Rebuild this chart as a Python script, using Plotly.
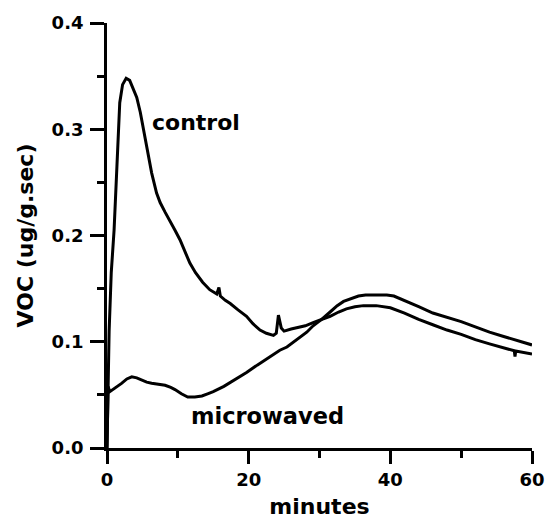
import plotly.graph_objects as go

# VOC emission rate over time for the two samples
control_t = [0.0, 0.15, 0.3, 0.6, 1.0, 1.4, 1.8, 2.2, 2.7, 3.2, 3.7, 4.2, 4.7, 5.3, 5.8,
             6.3, 7.0, 7.5, 8.2, 8.9, 9.6, 10.3, 11.0, 11.7, 12.5, 13.5, 14.5, 15.5, 15.8,
             16.0, 16.7, 17.4, 18.5, 19.7, 20.6, 21.6, 22.5, 23.5, 23.9, 24.2, 24.6, 25.0,
             26.0, 26.8, 28.0, 29.1, 30.3, 31.5, 32.7, 33.8, 35.0, 36.2, 38.0, 40.0, 42.0,
             44.0, 46.0, 48.0, 50.0, 52.0, 54.0, 56.0, 57.5, 57.6, 57.7, 60.0]
control_v = [0.0, 0.05, 0.11, 0.165, 0.205, 0.265, 0.325, 0.342, 0.348, 0.346, 0.338, 0.33,
             0.316, 0.295, 0.275, 0.259, 0.24, 0.231, 0.222, 0.214, 0.205, 0.196, 0.185,
             0.174, 0.165, 0.156, 0.149, 0.145, 0.151, 0.143, 0.139, 0.136, 0.13, 0.124,
             0.117, 0.111, 0.108, 0.106, 0.108, 0.125, 0.113, 0.11, 0.112, 0.113, 0.115,
             0.118, 0.121, 0.124, 0.128, 0.131, 0.133, 0.134, 0.134, 0.132, 0.127, 0.121,
             0.116, 0.111, 0.107, 0.102, 0.098, 0.094, 0.0915, 0.086, 0.0912, 0.0885]

micro_t = [0.0, 0.15, 0.4, 1.1, 2.1, 2.8, 3.5, 4.2, 4.9, 5.6, 6.3, 7.2, 8.2, 9.0, 9.6, 10.5,
           11.4, 12.4, 13.4, 14.2, 15.0, 16.5, 18.0, 19.7, 21.2, 22.8, 24.4, 25.4, 26.8,
           28.2, 29.1, 30.3, 31.5, 32.5, 33.4, 34.5, 35.5, 36.5, 38.0, 39.5, 40.5, 42.0,
           44.0, 46.0, 48.0, 50.0, 52.0, 54.0, 56.0, 58.0, 60.0]
micro_v = [0.0, 0.058, 0.053, 0.056, 0.061, 0.065, 0.067, 0.066, 0.064, 0.062, 0.061, 0.06,
           0.059, 0.057, 0.055, 0.051, 0.048, 0.048, 0.049, 0.051, 0.053, 0.058, 0.064,
           0.071, 0.078, 0.085, 0.092, 0.095, 0.102, 0.109, 0.115, 0.121, 0.128, 0.134,
           0.138, 0.141, 0.143, 0.144, 0.144, 0.144, 0.143, 0.139, 0.133, 0.127, 0.123,
           0.119, 0.114, 0.109, 0.105, 0.101, 0.097]

x_ticks = [0, 20, 40, 60]
y_ticks = [0.0, 0.1, 0.2, 0.3, 0.4]
y_tick_text = ["0.0", "0.1", "0.2", "0.3", "0.4"]

FONT = "DejaVu Sans"

fig = go.Figure()
fig.add_trace(go.Scatter(x=control_t, y=control_v, mode="lines",
                         line=dict(color="black", width=3), name="control"))
fig.add_trace(go.Scatter(x=micro_t, y=micro_v, mode="lines",
                         line=dict(color="black", width=3), name="microwaved"))

fig.add_annotation(x=12.6, y=0.306, text="control", showarrow=False,
                   font=dict(family=FONT, size=22, color="black", weight="bold"))
fig.add_annotation(x=22.6, y=0.030, text="microwaved", showarrow=False,
                   font=dict(family=FONT, size=22.5, color="black", weight="bold"))

axis_common = dict(
    showline=True, linecolor="black", linewidth=2.8, showgrid=False, zeroline=False,
    ticks="outside", tickcolor="black", tickwidth=2.8, mirror=False, automargin=False,
    tickfont=dict(family=FONT, size=18, color="black", weight="bold"),
)

fig.update_xaxes(range=[0, 60], tickvals=x_ticks, ticklen=13, ticklabelstandoff=0,
                 minor=dict(dtick=10, ticklen=7, tickwidth=2.8, tickcolor="black", ticks="outside"),
                 title=dict(text="minutes", standoff=15,
                            font=dict(family=FONT, size=22, color="black", weight="bold")),
                 **axis_common)
fig.update_yaxes(range=[0, 0.4], tickvals=y_ticks, ticktext=y_tick_text, ticklen=14,
                 ticklabelstandoff=3,
                 minor=dict(dtick=0.05, ticklen=7, tickwidth=2.8, tickcolor="black", ticks="outside"),
                 title=dict(text="VOC (ug/g.sec)", standoff=12,
                            font=dict(family=FONT, size=22, color="black", weight="bold")),
                 **axis_common)

fig.update_layout(width=545, height=519, margin=dict(l=107, r=13, t=23, b=71),
                  paper_bgcolor="white", plot_bgcolor="white", showlegend=False)

fig.write_html("out.html")
